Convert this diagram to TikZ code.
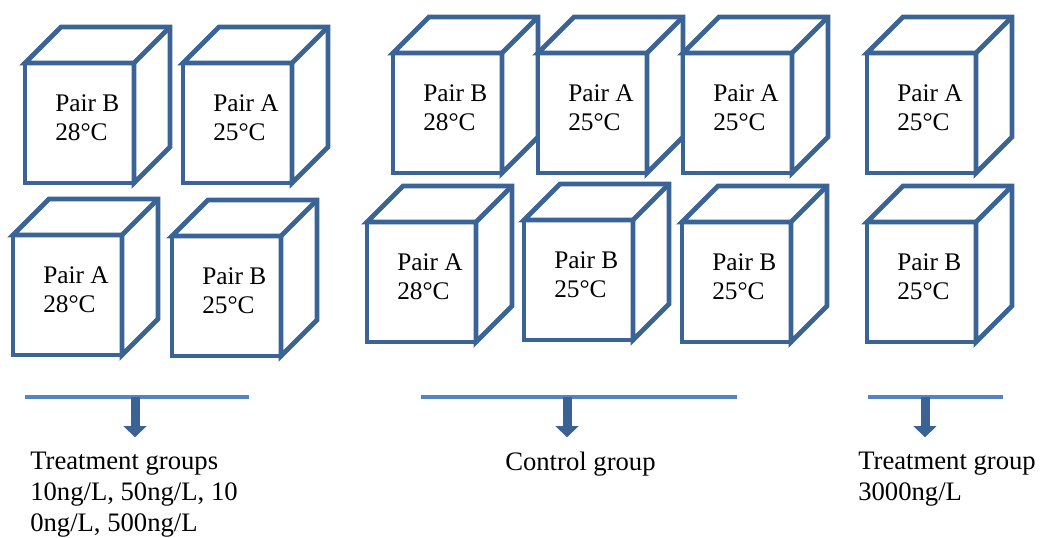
\documentclass[tikz,border=0pt]{standalone}
\usepackage{fontspec}
\setmainfont{Liberation Serif}
\usetikzlibrary{positioning,arrows.meta,calc}
\definecolor{cubeBlue}{HTML}{3B6496}
\definecolor{barBlue}{HTML}{5385C6}
\definecolor{dropBlue}{HTML}{3A6294}
\tikzset{
    face/.style={draw=cubeBlue,fill=white,line width=3.6pt,inner sep=0pt,outer sep=0pt,
        minimum width=81.75pt,minimum height=90pt,anchor=north west},
    rim/.style={draw=cubeBlue,fill=white,line width=3.6pt,line join=miter},
    tag/.style={anchor=west,align=left,inner sep=0pt,font=\fontsize{19}{21.5}\selectfont},
    bar/.style={draw=barBlue,line width=3.6pt},
    drop/.style={draw=dropBlue,line width=6.75pt,-{Triangle[width=17pt,length=8.5pt]},shorten >=11pt},
    grp/.style={anchor=north west,align=left,inner sep=0pt,font=\fontsize{20}{23}\selectfont}
}

\begin{document}
\begin{tikzpicture}[x=0.75pt,y=-0.75pt]
    \useasboundingbox (0,0) rectangle (1043,537);
    % cubes: name / front top-left corner / pair / temperature
    \foreach \n/\x/\y/\p/\t in {c1/25/63/B/28, c2/183/63/A/25, c3/13/235/A/28, c4/172/236/B/25,
        c5/393/53/B/28, c6/538/53/A/25, c7/683/53/A/25,
        c8/367/222/A/28, c9/524/220/B/25, c10/682/222/B/25,
        c11/867/53/A/25, c12/867/222/B/25} {
        \node[face] (\n) at (\x,\y) {};
        \draw[rim] (\n.north west) -- ++(36,-36) -- ++(109,0) -- ++(0,120)
            -- (\n.south east) -- (\n.north east) -- cycle;
        \draw[rim] (\n.north east) -- ++(36,-36);
        \node[tag] (\n-t) at ([xshift=22.5pt,yshift=3.75pt]\n.west) {Pair \p\\\t°C};
    }
    % brackets under each group
    \coordinate (barL-w) at (25,397);
    \coordinate (barL-e) at (249,397);
    \coordinate (tapL) at (135,397);
    \coordinate (barM-w) at (421,397);
    \coordinate (barM-e) at (737,397);
    \coordinate (tapM) at (567,397);
    \coordinate (barR-w) at (868,397);
    \coordinate (barR-e) at (1003,397);
    \coordinate (tapR) at (925,397);
    \draw[bar] (barL-w) -- (barL-e);
    \draw[bar] (barM-w) -- (barM-e);
    \draw[bar] (barR-w) -- (barR-e);
    \node[grp] (grpL) at (30,452) {Treatment groups\\10ng/L, 50ng/L, 10\\0ng/L, 500ng/L};
    \node[grp] (grpM) at (505,452) {Control group};
    \node[grp] (grpR) at (858,452) {Treatment group\\3000ng/L};
    \draw[drop] (tapL) -- (tapL |- grpL.north);
    \draw[drop] (tapM) -- (tapM |- grpM.north);
    \draw[drop] (tapR) -- (tapR |- grpR.north);
\end{tikzpicture}
\end{document}
